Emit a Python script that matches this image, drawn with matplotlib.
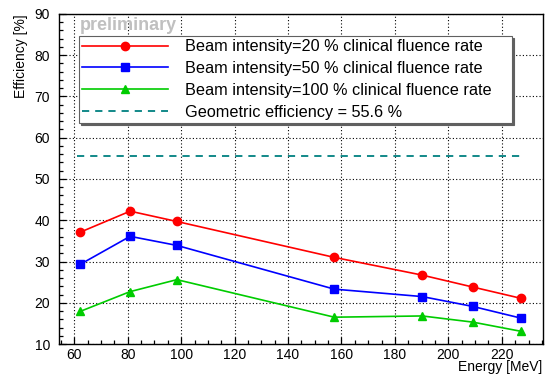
import matplotlib
matplotlib.use("Agg")
import matplotlib.pyplot as plt
from matplotlib.ticker import MultipleLocator

plt.rcParams['font.family'] = ['Liberation Sans', 'DejaVu Sans']

# data
energy = [62.2, 80.9, 98.4, 157.3, 190.2, 209.2, 227.0]
eff_20 = [37.1, 42.2, 39.7, 31.0, 26.7, 23.8, 21.1]
eff_50 = [29.3, 36.1, 33.9, 23.3, 21.5, 19.1, 16.3]
eff_100 = [17.9, 22.7, 25.6, 16.5, 16.8, 15.3, 13.1]
geo_eff = 55.6

labels = ['Beam intensity=20 % clinical fluence rate',
          'Beam intensity=50 % clinical fluence rate',
          'Beam intensity=100 % clinical fluence rate',
          'Geometric efficiency = 55.6 %']

fig = plt.figure(figsize=(5.5, 3.74), dpi=100)
ax = fig.add_axes([0.1064, 0.0802, 0.8803, 0.8824])

ax.plot(energy, eff_20, color='#ff0000', lw=1.2, marker='o', ms=6, label=labels[0])
ax.plot(energy, eff_50, color='#0000ff', lw=1.2, marker='s', ms=6, label=labels[1])
ax.plot(energy, eff_100, color='#00cc00', lw=1.2, marker='^', ms=6, label=labels[2])
ax.plot([energy[0] - 1, energy[-1]], [geo_eff, geo_eff], color='#008080', lw=1.3,
        ls=(0, (4, 3.3)), label=labels[3])

ax.set_xlim(54.1, 235.3)
ax.set_ylim(10, 90)
ax.xaxis.set_major_locator(MultipleLocator(20))
ax.xaxis.set_minor_locator(MultipleLocator(5))
ax.yaxis.set_major_locator(MultipleLocator(10))
ax.yaxis.set_minor_locator(MultipleLocator(2))
ax.tick_params(which='both', direction='in', top=False, right=False,
               labelsize=10, width=0.9)
ax.tick_params(which='major', length=5)
ax.tick_params(which='minor', length=2.8)
ax.tick_params(axis='x', pad=3)
ax.tick_params(axis='y', pad=6)
ax.grid(True, which='major', color='black', ls=(0, (1, 2)), lw=0.8)
for s in ax.spines.values():
    s.set_linewidth(1.0)

ax.set_xlabel('Energy [MeV]', fontsize=10, loc='right', labelpad=-1.5)
ax.set_ylabel('Efficiency [%]', fontsize=10, loc='top', labelpad=4.5)

ax.text(0.044, 0.99, 'preliminary', transform=ax.transAxes, color='#c0c0c0',
        fontsize=13, fontweight='bold', ha='left', va='top')

leg = ax.legend(loc='upper left', bbox_to_anchor=(0.0424, 0.933, 0.894, 0.0),
                mode='expand', fontsize=11.7, frameon=True, fancybox=False,
                framealpha=1.0,
                shadow={'color': '#606060', 'alpha': 1.0, 'ox': 1.5, 'oy': -1.5},
                handlelength=5.3, handletextpad=1.0, borderpad=0.2,
                labelspacing=0.42, borderaxespad=0)
leg.get_frame().set_edgecolor('#606060')
leg.get_frame().set_linewidth(0.8)

fig.savefig('out.png', dpi=100)
